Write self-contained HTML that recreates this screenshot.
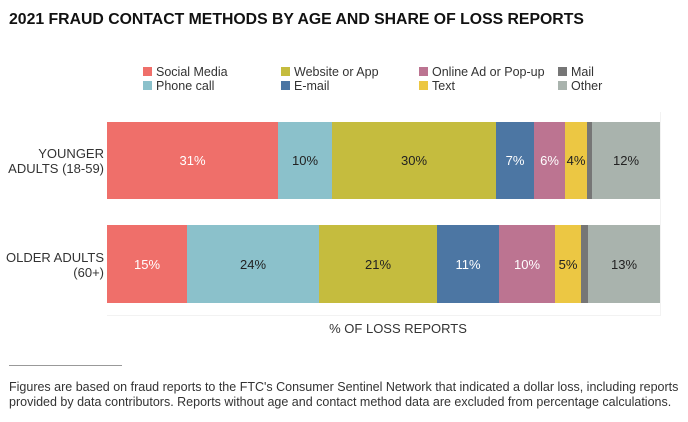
<!DOCTYPE html><html><head><style>
body{margin:0;width:688px;height:422px;background:#fff;font-family:"Liberation Sans",sans-serif;position:relative;overflow:hidden;color:#222}
.a{position:absolute;white-space:nowrap}
.sq{position:absolute;width:9px;height:9px}
.lg{position:absolute;font-size:12.5px;color:#333;line-height:14px}
.seg{position:absolute;display:flex;align-items:center;justify-content:center;font-size:13px}
.yl{position:absolute;right:584px;text-align:right;font-size:13px;line-height:15px;color:#333}
</style></head><body>
<div class="a" style="left:9px;top:11px;font-size:15.8px;font-weight:bold;color:#111">2021 FRAUD CONTACT METHODS BY AGE AND SHARE OF LOSS REPORTS</div>
<div class="sq" style="left:143px;top:67px;background:#ef6f6a"></div><div class="lg" style="left:156px;top:65px">Social Media</div>
<div class="sq" style="left:143px;top:81px;background:#8bc1cb"></div><div class="lg" style="left:156px;top:79px">Phone call</div>
<div class="sq" style="left:281px;top:67px;background:#c5bc3e"></div><div class="lg" style="left:294px;top:65px">Website or App</div>
<div class="sq" style="left:281px;top:81px;background:#4c76a3"></div><div class="lg" style="left:294px;top:79px">E-mail</div>
<div class="sq" style="left:419px;top:67px;background:#bc7491"></div><div class="lg" style="left:432px;top:65px">Online Ad or Pop-up</div>
<div class="sq" style="left:419px;top:81px;background:#ecc743"></div><div class="lg" style="left:432px;top:79px">Text</div>
<div class="sq" style="left:558px;top:67px;background:#767676"></div><div class="lg" style="left:571px;top:65px">Mail</div>
<div class="sq" style="left:558px;top:81px;background:#a9b3ad"></div><div class="lg" style="left:571px;top:79px">Other</div>
<div class="a" style="left:107px;top:112px;width:553px;height:203px;border-right:1px solid #f2f2f2;border-bottom:1px solid #f2f2f2"></div>
<div class="yl" style="top:146px">YOUNGER<br>ADULTS (18-59)</div>
<div class="yl" style="top:250px">OLDER ADULTS<br>(60+)</div>
<div style="position:absolute;left:0;top:122px;height:77px;width:688px">
<div class="seg" style="left:107px;width:171px;height:77px;background:#ef6f6a;color:#fff">31%</div>
<div class="seg" style="left:278px;width:54px;height:77px;background:#8bc1cb">10%</div>
<div class="seg" style="left:332px;width:164px;height:77px;background:#c5bc3e">30%</div>
<div class="seg" style="left:496px;width:38px;height:77px;background:#4c76a3;color:#fff">7%</div>
<div class="seg" style="left:534px;width:31px;height:77px;background:#bc7491;color:#fff">6%</div>
<div class="seg" style="left:565px;width:22px;height:77px;background:#ecc743">4%</div>
<div class="seg" style="left:587px;width:5px;height:77px;background:#767676"></div>
<div class="seg" style="left:592px;width:68px;height:77px;background:#a9b3ad">12%</div>
</div>
<div style="position:absolute;left:0;top:225px;height:78px;width:688px">
<div class="seg" style="left:107px;width:80px;height:78px;background:#ef6f6a;color:#fff">15%</div>
<div class="seg" style="left:187px;width:132px;height:78px;background:#8bc1cb">24%</div>
<div class="seg" style="left:319px;width:118px;height:78px;background:#c5bc3e">21%</div>
<div class="seg" style="left:437px;width:62px;height:78px;background:#4c76a3;color:#fff">11%</div>
<div class="seg" style="left:499px;width:56px;height:78px;background:#bc7491;color:#fff">10%</div>
<div class="seg" style="left:555px;width:26px;height:78px;background:#ecc743">5%</div>
<div class="seg" style="left:581px;width:7px;height:78px;background:#767676"></div>
<div class="seg" style="left:588px;width:72px;height:78px;background:#a9b3ad">13%</div>
</div>
<div class="a" style="left:0;width:796px;text-align:center;top:321px;font-size:13px;color:#333">% OF LOSS REPORTS</div>
<div class="a" style="left:9px;top:365px;width:113px;height:1px;background:#999"></div>
<div class="a" style="left:9px;top:380px;font-size:12.5px;line-height:14.5px;color:#333">Figures are based on fraud reports to the FTC's Consumer Sentinel Network that indicated a dollar loss, including reports<br>provided by data contributors. Reports without age and contact method data are excluded from percentage calculations.</div>
</body></html>
